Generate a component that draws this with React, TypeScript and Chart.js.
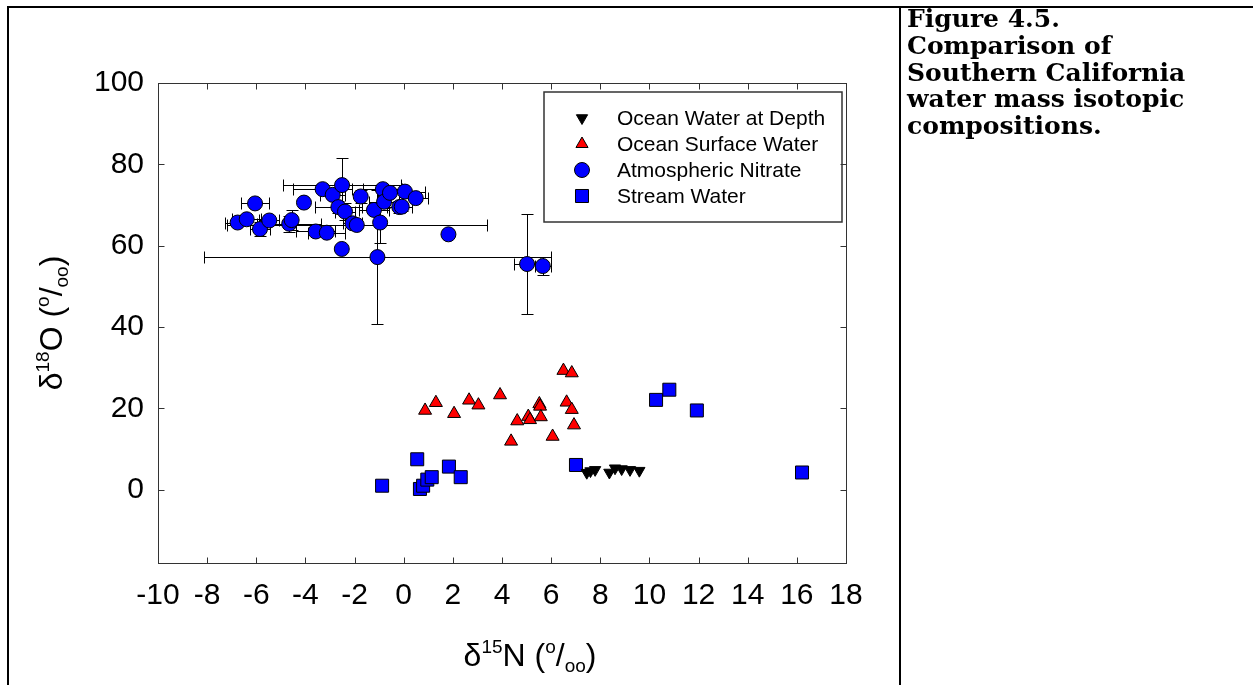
import React, { useEffect, useRef } from "react";
import { Chart, registerables } from "chart.js";
import { drawPoint } from "chart.js/helpers";

Chart.register(...registerables);

// ---------- data ----------
const xTicks = [-10, -8, -6, -4, -2, 0, 2, 4, 6, 8, 10, 12, 14, 16, 18];
const yTicks = [0, 20, 40, 60, 80, 100];
const X_MIN = -10;
const X_MAX = 18;
const Y_MIN = -18;
const Y_MAX = 100;

const seriesNames = [
  "Ocean Water at Depth",
  "Ocean Surface Water",
  "Atmospheric Nitrate",
  "Stream Water",
];

const depthX = [7.45, 7.6, 7.79, 8.37, 8.6, 8.87, 9.21, 9.59];
const depthY = [4.2, 4.6, 4.9, 4.25, 5.3, 5.1, 4.9, 4.7];

const surfaceX = [6.5, 6.84, 0.87, 1.31, 2.05, 2.66, 3.04, 3.92, 4.62, 5.07, 5.14, 5.52, 5.55, 5.58, 6.63, 6.84, 6.93, 6.06, 4.37];
const surfaceY = [29.3, 28.7, 19.5, 21.4, 18.7, 22.0, 20.8, 23.3, 16.9, 18.0, 17.2, 21.1, 20.5, 17.9, 21.5, 19.7, 15.9, 13.1, 11.9];

const atmX = [-6.76, -6.39, -6.05, -5.85, -5.47, -4.66, -4.56, -4.06, -3.58, -3.13, -3.3, -2.89, -2.51, -2.52, -2.66, -2.39, -2.08, -1.91, -1.75, -1.21, -0.96, -1.07, -0.85, -0.8, -0.56, -0.18, 0.05, 0.49, -0.08, 1.82, 5.02, 5.66];
const atmY = [65.7, 66.5, 70.4, 64.1, 66.2, 65.4, 66.3, 70.6, 63.5, 63.2, 73.9, 72.5, 74.9, 59.2, 69.5, 68.4, 65.5, 65.1, 72.1, 68.8, 65.7, 57.2, 73.9, 70.8, 73.0, 69.5, 73.3, 71.7, 69.6, 62.8, 55.5, 55.0];
const atmXErr = [0.5, 0.6, 0.58, 0.4, 0.4, 1.3, 0, 0, 0.8, 0.75, 1.2, 0.5, 2.4, 0, 0.95, 0.4, 0.4, 5.3, 0, 0.6, 0, 7.07, 0.8, 0.6, 0.5, 0.5, 0.8, 0.5, 0, 0, 0.52, 0.32];
const atmYErr = [0, 0, 0, 1.8, 0, 2.0, 2.5, 0, 0, 0, 0, 0, 6.7, 0, 1.5, 2.0, 0, 0, 1.5, 0, 5.0, 16.4, 0, 1.5, 0, 1.5, 0, 0, 1.0, 0, 12.4, 2.2];

const streamX = [-0.88, 0.55, 0.66, 0.79, 0.96, 1.14, 1.84, 2.32, 7.01, 10.27, 10.81, 11.93, 16.21];
const streamY = [1.0, 7.5, 0.2, 1.0, 2.5, 3.1, 5.7, 3.1, 6.1, 22.1, 24.6, 19.5, 4.25];

const captionLines = [
  "Figure 4.5.",
  "Comparison of",
  "Southern California",
  "water mass isotopic",
  "compositions.",
];

// ---------- helpers ----------
const SANS = "'Liberation Sans', Arial, sans-serif";
const zip = (xs: number[], ys: number[]) => xs.map((x, i) => ({ x, y: ys[i] }));

type Part = { t: string; s: number; dy: number };
function drawRich(ctx: CanvasRenderingContext2D, parts: Part[], cx: number, baseY: number) {
  let total = 0;
  const widths = parts.map((p) => {
    ctx.font = `${p.s}px ${SANS}`;
    const w = ctx.measureText(p.t).width;
    total += w;
    return w;
  });
  let x = cx - total / 2;
  ctx.textBaseline = "alphabetic";
  ctx.textAlign = "left";
  parts.forEach((p, i) => {
    ctx.font = `${p.s}px ${SANS}`;
    ctx.fillText(p.t, x, baseY + p.dy);
    x += widths[i];
  });
}

const xTitle: Part[] = [
  { t: "δ", s: 32, dy: 0 },
  { t: "15", s: 19, dy: -13 },
  { t: "N (", s: 32, dy: 0 },
  { t: "o", s: 19, dy: -13 },
  { t: "/", s: 32, dy: 0 },
  { t: "oo", s: 19, dy: 6 },
  { t: ")", s: 32, dy: 0 },
];
const yTitle: Part[] = [
  { t: "δ", s: 32, dy: 0 },
  { t: "18", s: 19, dy: -13 },
  { t: "O (", s: 32, dy: 0 },
  { t: "o", s: 19, dy: -13 },
  { t: "/", s: 32, dy: 0 },
  { t: "oo", s: 19, dy: 6 },
  { t: ")", s: 32, dy: 0 },
];

const crisp = (v: number) => Math.round(v) + 0.5;

const errorBarPlugin = {
  id: "errorBars",
  beforeDatasetsDraw(chart: any) {
    const { ctx } = chart;
    const xs = chart.scales.x;
    const ys = chart.scales.y;
    const cap = 6;
    ctx.save();
    ctx.strokeStyle = "#000";
    ctx.lineWidth = 1;
    const line = (x1: number, y1: number, x2: number, y2: number) => {
      ctx.beginPath();
      ctx.moveTo(x1, y1);
      ctx.lineTo(x2, y2);
      ctx.stroke();
    };
    atmX.forEach((vx, i) => {
      const vy = atmY[i];
      const px = crisp(xs.getPixelForValue(vx));
      const py = crisp(ys.getPixelForValue(vy));
      const ex = atmXErr[i];
      const ey = atmYErr[i];
      if (ex > 0) {
        const l = crisp(xs.getPixelForValue(vx - ex));
        const r = crisp(xs.getPixelForValue(vx + ex));
        line(l, py, r, py);
        line(l, py - cap, l, py + cap);
        line(r, py - cap, r, py + cap);
      }
      if (ey > 0) {
        const t = crisp(ys.getPixelForValue(vy + ey));
        const b = crisp(ys.getPixelForValue(vy - ey));
        line(px, t, px, b);
        line(px - cap, t, px + cap, t);
        line(px - cap, b, px + cap, b);
      }
    });
    ctx.restore();
  },
};

const framePlugin = {
  id: "frameTicks",
  afterDatasetsDraw(chart: any) {
    const { ctx, chartArea: a } = chart;
    const xs = chart.scales.x;
    const ys = chart.scales.y;
    const tl = 6;
    ctx.save();
    ctx.strokeStyle = "#333";
    ctx.lineWidth = 1;
    const L = crisp(a.left), R = crisp(a.right), T = crisp(a.top), B = crisp(a.bottom);
    ctx.strokeRect(L, T, R - L, B - T);
    ctx.beginPath();
    xTicks.forEach((v) => {
      const p = crisp(xs.getPixelForValue(v));
      ctx.moveTo(p, B);
      ctx.lineTo(p, B - tl);
      ctx.moveTo(p, T);
      ctx.lineTo(p, T + tl);
    });
    yTicks.forEach((v) => {
      const p = crisp(ys.getPixelForValue(v));
      ctx.moveTo(L, p);
      ctx.lineTo(L + tl, p);
      ctx.moveTo(R, p);
      ctx.lineTo(R - tl, p);
    });
    ctx.stroke();
    ctx.restore();
  },
};

const legendPlugin = {
  id: "boxLegend",
  afterDraw(chart: any) {
    const { ctx } = chart;
    ctx.save();
    // box
    ctx.strokeStyle = "#333";
    ctx.lineWidth = 1.5;
    ctx.strokeRect(544, 92, 298, 130);
    chart.data.datasets.forEach((ds: any, i: number) => {
      const y = 118 + i * 26;
      ctx.fillStyle = ds.backgroundColor;
      ctx.strokeStyle = ds.borderColor;
      ctx.lineWidth = ds.borderWidth;
      drawPoint(ctx, {
        pointStyle: ds.pointStyle,
        radius: ds.legendRadius,
        rotation: ds.rotation || 0,
        borderWidth: ds.borderWidth,
      } as any, 582, y);
      ctx.fillStyle = "#000";
      ctx.font = `21px ${SANS}`;
      ctx.textAlign = "left";
      ctx.textBaseline = "middle";
      ctx.fillText(ds.label, 617, y + 1);
    });
    ctx.restore();
  },
};

const titlePlugin = {
  id: "richTitles",
  afterDraw(chart: any) {
    const { ctx } = chart;
    ctx.save();
    ctx.fillStyle = "#000";
    drawRich(ctx, xTitle, 530, 666);
    ctx.translate(62, 323);
    ctx.rotate(-Math.PI / 2);
    drawRich(ctx, yTitle, 0, 0);
    ctx.restore();
  },
};

export default function App() {
  const ref = useRef<HTMLCanvasElement | null>(null);

  useEffect(() => {
    if (!ref.current) return;
    const tickFont = { family: SANS, size: 30 };
    const chart = new Chart(ref.current, {
      type: "scatter",
      data: {
        datasets: [
          {
            label: seriesNames[0],
            data: zip(depthX, depthY),
            pointStyle: "triangle",
            rotation: 180,
            pointRotation: 180,
            pointRadius: 6.5,
            legendRadius: 6.5,
            backgroundColor: "#000000",
            borderColor: "#000000",
            borderWidth: 1,
          } as any,
          {
            label: seriesNames[1],
            data: zip(surfaceX, surfaceY),
            pointStyle: "triangle",
            pointRadius: 7.5,
            legendRadius: 7,
            backgroundColor: "#ff0000",
            borderColor: "#000000",
            borderWidth: 1,
          } as any,
          {
            label: seriesNames[2],
            data: zip(atmX, atmY),
            pointStyle: "circle",
            pointRadius: 7.5,
            legendRadius: 7.5,
            backgroundColor: "#0000ff",
            borderColor: "#000000",
            borderWidth: 1,
          } as any,
          {
            label: seriesNames[3],
            data: zip(streamX, streamY),
            pointStyle: "rect",
            pointRadius: 9.2,
            legendRadius: 9.2,
            backgroundColor: "#0000ff",
            borderColor: "#000000",
            borderWidth: 1,
          } as any,
        ],
      },
      options: {
        responsive: false,
        animation: false,
        events: [],
        layout: { padding: { top: 83, right: 54, left: 0, bottom: 0 } },
        plugins: {
          legend: { display: false },
          tooltip: { enabled: false },
          title: { display: false },
        },
        scales: {
          x: {
            type: "linear",
            position: "bottom",
            min: X_MIN,
            max: X_MAX,
            grid: { display: false, drawTicks: false },
            border: { display: false },
            ticks: {
              font: tickFont,
              color: "#000",
              padding: 15,
              autoSkip: false,
              maxRotation: 0,
              includeBounds: true,
            },
            afterBuildTicks: (s: any) => {
              s.ticks = xTicks.map((v) => ({ value: v }));
            },
            afterFit: (s: any) => {
              s.height = 122;
            },
          },
          y: {
            type: "linear",
            position: "left",
            min: Y_MIN,
            max: Y_MAX,
            grid: { display: false, drawTicks: false },
            border: { display: false },
            ticks: {
              font: tickFont,
              color: "#000",
              padding: 14,
              autoSkip: false,
            },
            afterBuildTicks: (s: any) => {
              s.ticks = yTicks.map((v) => ({ value: v }));
            },
            afterFit: (s: any) => {
              s.width = 158;
            },
          },
        },
      } as any,
      plugins: [errorBarPlugin, framePlugin, legendPlugin, titlePlugin],
    });
    return () => chart.destroy();
  }, []);

  return (
    <div
      style={{
        position: "relative",
        width: 1253,
        height: 685,
        overflow: "hidden",
        background: "#fff",
      }}
    >
      <style>{`body{margin:0;}`}</style>
      <canvas
        ref={ref}
        width={900}
        height={685}
        style={{ position: "absolute", left: 0, top: 0, width: 900, height: 685 }}
      />
      <div style={{ position: "absolute", left: 7, top: 6, width: 1246, height: 2, background: "#000" }} />
      <div style={{ position: "absolute", left: 7, top: 6, width: 2, height: 679, background: "#000" }} />
      <div style={{ position: "absolute", left: 899, top: 6, width: 2, height: 679, background: "#000" }} />
      <div
        style={{
          position: "absolute",
          left: 907,
          top: 6,
          fontFamily: "'DejaVu Serif', serif",
          fontWeight: "bold",
          fontSize: 25,
          lineHeight: "26.8px",
          color: "#000",
          whiteSpace: "nowrap",
        }}
      >
        {captionLines.map((l, i) => (
          <div key={i}>{l}</div>
        ))}
      </div>
    </div>
  );
}
